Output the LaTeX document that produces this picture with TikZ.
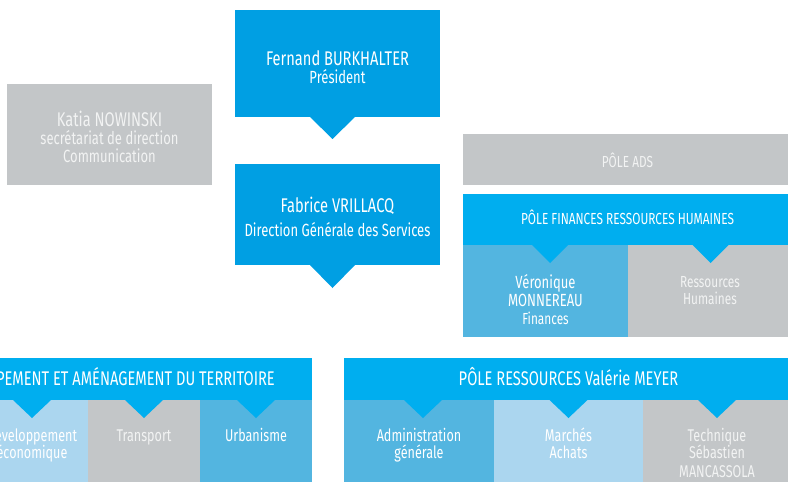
\documentclass[tikz,border=0pt]{standalone}
\usepackage{fontspec}
\setmainfont{Fira Sans}[FakeStretch=0.74]
\definecolor{blueA}{HTML}{009FE3}
\definecolor{blueB}{HTML}{00AEEF}
\definecolor{greyC}{HTML}{C3C6C8}
\definecolor{blueM}{HTML}{53B5E0}
\definecolor{blueL}{HTML}{ABD6EF}
\definecolor{greyT}{HTML}{F2F3F3}
\newcommand\ptr[5]{\fill[#5] ([xshift={(#2-#3)*1pt}]#1) -- ([xshift={(#2+#3)*1pt}]#1) -- ([xshift={#2*1pt},yshift={-#4*1pt}]#1) -- cycle;}
\begin{document}
\begin{tikzpicture}[x=1pt,y=-1pt,
  box/.style={inner sep=0pt,outer sep=0pt,anchor=north west},
  lbl/.style={text=white,anchor=base,inner sep=0pt},
  glbl/.style={text=greyT,anchor=base,inner sep=0pt},
  fA/.style={font=\fontsize{19.8}{21}\selectfont},
  fB/.style={font=\fontsize{17.6}{19}\selectfont},
  fC/.style={font=\fontsize{16}{17}\selectfont},
  fD/.style={font=\fontsize{17}{18}\selectfont}]
\useasboundingbox (0,0) rectangle (788,482);
\clip (0,0) rectangle (788,482);
% top boxes
\node[box,fill=blueA,minimum width=205pt,minimum height=107pt] (fer) at (235,10) {};
\node[lbl,fA] (ferT1) at (337.5,65) {Fernand BURKHALTER};
\node[lbl,fB] (ferT2) at (337.5,83) {Président};
\ptr{fer.south}{-5}{22.5}{22}{blueA}
\node[box,fill=greyC,minimum width=205pt,minimum height=101pt] (kat) at (7,84) {};
\node[glbl,fA] (katT1) at (109.5,126) {Katia NOWINSKI};
\node[glbl,fB] (katT2) at (109.5,144) {secrétariat de direction};
\node[glbl,fB] (katT3) at (109.5,162) {Communication};
\node[box,fill=blueA,minimum width=205pt,minimum height=101pt] (fab) at (235,164) {};
\node[lbl,fA] (fabT1) at (337.5,212) {Fabrice VRILLACQ};
\node[lbl,fB] (fabT2) at (337.5,236) {Direction Générale des Services};
\ptr{fab.south}{-5}{22.5}{23}{blueA}
% right poles
\node[box,fill=greyC,minimum width=330pt,minimum height=51pt] (ads) at (463,134) {};
\node[glbl,fC] (adsT) at (627.5,167) {PÔLE ADS};
\node[box,fill=blueB,minimum width=330pt,minimum height=51pt] (fin) at (463,194) {};
\node[lbl,fC] (finT) at (627.5,224) {PÔLE FINANCES RESSOURCES HUMAINES};
\node[box,fill=blueM,minimum width=165pt,minimum height=92pt] (ver) at (463,245) {};
\node[lbl,fB] (verT1) at (545.5,288) {Véronique};
\node[lbl,fB] (verT2) at (545.5,306) {MONNEREAU};
\node[lbl,fC] (verT3) at (545.5,324) {Finances};
\node[box,fill=greyC,minimum width=165pt,minimum height=92pt] (rh) at (628,245) {};
\node[glbl,fC] (rhT1) at (710,287) {Ressources};
\node[glbl,fC] (rhT2) at (710,304) {Humaines};
\ptr{ver.north}{4.5}{18}{18}{blueB}
\ptr{rh.north}{0}{18}{18}{blueB}
% bottom left pole
\node[box,fill=blueB,minimum width=336pt,minimum height=42pt] (dev) at (-24,358) {};
\node[lbl,fA,anchor=base east] (devT) at (275,385) {PÔLE DÉVELOPPEMENT ET AMÉNAGEMENT DU TERRITOIRE};
\node[box,fill=blueL,minimum width=112pt,minimum height=90pt] (eco) at (-24,400) {};
\node[lbl,fD] (ecoT1) at (32,441) {Développement};
\node[lbl,fD] (ecoT2) at (32,458) {économique};
\node[box,fill=greyC,minimum width=112pt,minimum height=90pt] (tra) at (88,400) {};
\node[glbl,fD] (traT) at (144,441) {Transport};
\node[box,fill=blueM,minimum width=112pt,minimum height=90pt] (urb) at (200,400) {};
\node[lbl,fD] (urbT) at (256,441) {Urbanisme};
\ptr{eco.north}{0}{19}{18}{blueB}
\ptr{tra.north}{0}{19}{18}{blueB}
\ptr{urb.north}{0}{19}{18}{blueB}
% bottom right pole
\node[box,fill=blueB,minimum width=449pt,minimum height=42pt] (res) at (344,358) {};
\node[lbl,fA] (resT) at (568.5,385) {PÔLE RESSOURCES Valérie MEYER};
\node[box,fill=blueM,minimum width=150pt,minimum height=90pt] (adm) at (344,400) {};
\node[lbl,fD] (admT1) at (419,441) {Administration};
\node[lbl,fD] (admT2) at (419,458) {générale};
\node[box,fill=blueL,minimum width=149pt,minimum height=90pt] (mar) at (494,400) {};
\node[lbl,fD] (marT1) at (568.5,441) {Marchés};
\node[lbl,fD] (marT2) at (568.5,458) {Achats};
\node[box,fill=greyC,minimum width=150pt,minimum height=90pt] (tec) at (643,400) {};
\node[glbl,fD] (tecT1) at (717,441) {Technique};
\node[glbl,fD] (tecT2) at (717,458) {Sébastien};
\node[glbl,fD] (tecT3) at (717,477) {MANCASSOLA};
\ptr{adm.north}{4}{19}{18}{blueB}
\ptr{mar.north}{0}{19}{18}{blueB}
\ptr{tec.north}{-1}{19}{18}{blueB}
\end{tikzpicture}
\end{document}
